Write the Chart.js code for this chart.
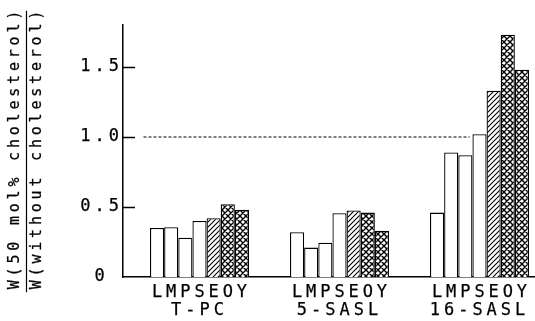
<!DOCTYPE html>
<html>
<head>
<meta charset="utf-8">
<script src="https://cdn.jsdelivr.net/npm/chart.js@4/dist/chart.umd.min.js"></script>
<style>
  html, body { margin: 0; padding: 0; background: #fff; }
  #wrap { width: 535px; height: 321px; }
</style>
</head>
<body>
<div id="wrap"><canvas id="c" width="535" height="321"></canvas></div>
<script>
// Spin-label groups and their positions on the x axis
const groups = ['T-PC', '5-SASL', '16-SASL'];
const groupPos = [1, 2, 3];

// Lipid series (one bar per series in each group)
const seriesLetters = ['L', 'M', 'P', 'S', 'E', 'O', 'Y'];
const valuesL = [0.35, 0.32, 0.46];
const valuesM = [0.355, 0.21, 0.89];
const valuesP = [0.28, 0.245, 0.87];
const valuesS = [0.40, 0.455, 1.02];
const valuesE = [0.42, 0.475, 1.33];
const valuesO = [0.52, 0.46, 1.73];
const valuesY = [0.48, 0.33, 1.48];
const seriesValues = [valuesL, valuesM, valuesP, valuesS, valuesE, valuesO, valuesY];
const seriesFill = ['plain', 'plain', 'plain', 'plain', 'hatch', 'cross', 'cross'];

// Y axis ticks
const yTicks = [0, 0.5, 1.0, 1.5];
const yTickLabels = ['0', '0.5', '1.0', '1.5'];

// Reference ratio of 1 (dashed line) and the x span it covers
const refValue = 1.0;
const refSpan = [0.6, 2.93];

const titleLines = ['W(50 mol% cholesterol)', 'W(without cholesterol)'];

const FONT = '"DejaVu Sans Mono", monospace';
const SPACING = 4;
const TITLE_SPACING = 3.8;
const INK = 0.25;

const canvas = document.getElementById('c');
const ctx0 = canvas.getContext('2d');

function makePattern(kind) {
  if (kind === 'plain') return '#fff';
  const s = kind === 'cross' ? 6 : 5;
  const c = document.createElement('canvas');
  c.width = s; c.height = s;
  const g = c.getContext('2d');
  g.fillStyle = '#fff';
  g.fillRect(0, 0, s, s);
  g.strokeStyle = '#000';
  g.lineWidth = kind === 'cross' ? 1.4 : 1.1;
  g.beginPath();
  g.moveTo(-1, s + 1); g.lineTo(s + 1, -1);
  g.moveTo(-1, 1); g.lineTo(1, -1);
  g.moveTo(s - 1, s + 1); g.lineTo(s + 1, s - 1);
  if (kind === 'cross') {
    g.moveTo(-1, -1); g.lineTo(s + 1, s + 1);
    g.moveTo(s - 1, -1); g.lineTo(s + 1, 1);
    g.moveTo(-1, s - 1); g.lineTo(1, s + 1);
  }
  g.stroke();
  return ctx0.createPattern(c, 'repeat');
}

function setSpacing(ctx, px) {
  if ('letterSpacing' in ctx) ctx.letterSpacing = px + 'px';
}

function inkText(ctx, text, x, y) {
  ctx.fillText(text, x, y);
  ctx.strokeText(text, x, y);
}

const barDatasets = seriesLetters.map((name, i) => ({
  type: 'bar',
  label: name,
  data: groupPos.map((x, j) => ({ x: x, y: seriesValues[i][j] })),
  backgroundColor: makePattern(seriesFill[i]),
  borderColor: '#000',
  borderWidth: 1.3,
  borderSkipped: 'start',
  categoryPercentage: 0.707,
  barPercentage: 1.0,
  order: 2
}));

const refDataset = {
  type: 'line',
  label: 'ref',
  data: refSpan.map(x => ({ x: x, y: refValue })),
  borderColor: '#000',
  borderWidth: 1,
  borderDash: [3, 2],
  pointRadius: 0,
  fill: false,
  order: 1
};

const plotterText = {
  id: 'plotterText',
  beforeLayout(chart) { setSpacing(chart.ctx, SPACING); },
  beforeDraw(chart) { setSpacing(chart.ctx, SPACING); },
  afterDraw(chart) {
    const { ctx, chartArea } = chart;
    const yScale = chart.scales.y;
    ctx.save();

    // inward tick marks on the value axis
    ctx.strokeStyle = '#000';
    ctx.lineWidth = 1.5;
    yTicks.forEach(v => {
      if (v === 0) return;
      const py = Math.round(yScale.getPixelForValue(v)) + 0.5;
      ctx.beginPath();
      ctx.moveTo(chartArea.left, py);
      ctx.lineTo(chartArea.left + 12, py);
      ctx.stroke();
    });

    // series letter under each bar
    setSpacing(ctx, SPACING);
    ctx.fillStyle = '#000';
    ctx.lineWidth = INK;
    ctx.font = '17px ' + FONT;
    ctx.textAlign = 'center';
    ctx.textBaseline = 'middle';
    seriesLetters.forEach((letter, d) => {
      chart.getDatasetMeta(d).data.forEach(bar => {
        inkText(ctx, letter, bar.x + SPACING / 2, chartArea.bottom + 16);
      });
    });

    // value-axis title written as a ratio
    setSpacing(ctx, TITLE_SPACING);
    ctx.font = '15px ' + FONT;
    const cy = (chartArea.top + chartArea.bottom) / 2 - 1;
    const lineX = [15, 37];
    let half = 0;
    titleLines.forEach((t, i) => {
      half = Math.max(half, (ctx.measureText(t).width - TITLE_SPACING) / 2);
      ctx.save();
      ctx.translate(lineX[i], cy);
      ctx.rotate(-Math.PI / 2);
      inkText(ctx, t, TITLE_SPACING / 2, 0);
      ctx.restore();
    });
    ctx.lineWidth = 1.2;
    ctx.beginPath();
    ctx.moveTo(26.5, cy - half);
    ctx.lineTo(26.5, cy + half + 3);
    ctx.stroke();
    ctx.restore();
  }
};

new Chart(canvas, {
  type: 'bar',
  data: { datasets: [...barDatasets, refDataset] },
  options: {
    responsive: false,
    animation: false,
    events: [],
    layout: { padding: { top: 25, right: 0, bottom: 0, left: 0 } },
    plugins: { legend: { display: false }, tooltip: { enabled: false } },
    scales: {
      x: {
        type: 'linear',
        min: 0.4536,
        max: 3.3964,
        offset: false,
        grid: { display: false, drawTicks: false },
        border: { display: true, color: '#000', width: 1.5 },
        afterBuildTicks: s => { s.ticks = groupPos.map(v => ({ value: v })); },
        afterFit: s => { s.height = 44; s.paddingLeft = 0; s.paddingRight = 0; },
        ticks: {
          autoSkip: false,
          maxRotation: 0,
          padding: 23,
          color: '#000',
          textStrokeColor: '#000',
          textStrokeWidth: INK,
          font: { family: FONT, size: 17, lineHeight: 1.2 },
          callback: v => groups[groupPos.indexOf(v)]
        }
      },
      y: {
        type: 'linear',
        min: 0,
        max: 1.8,
        grid: { display: false, drawTicks: false },
        border: { display: true, color: '#000', width: 1.5 },
        afterBuildTicks: s => { s.ticks = yTicks.map(v => ({ value: v })); },
        afterFit: s => { s.width = 123; s.paddingTop = 0; s.paddingBottom = 0; },
        ticks: {
          padding: 0,
          crossAlign: 'center',
          color: '#000',
          textStrokeColor: '#000',
          textStrokeWidth: INK,
          font: { family: FONT, size: 17 },
          callback: v => yTickLabels[yTicks.indexOf(v)]
        }
      }
    }
  },
  plugins: [plotterText]
});
</script>
</body>
</html>
